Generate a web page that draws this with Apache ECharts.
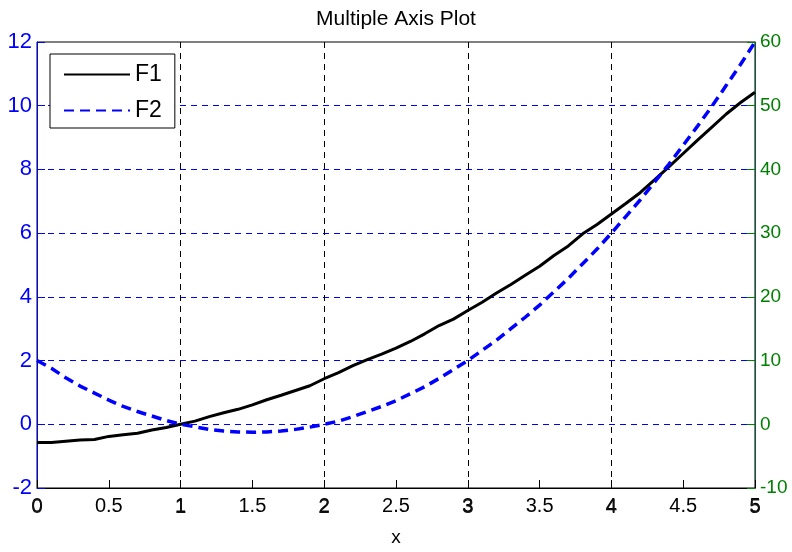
<!DOCTYPE html>
<html><head><meta charset="utf-8">
<script src="https://cdn.jsdelivr.net/npm/echarts@6/dist/echarts.min.js"></script>
<style>html,body{margin:0;padding:0;background:#fff}#c{width:792px;height:552px}</style>
</head><body><div id="c"></div>
<script>
var xValues = [0,0.1,0.2,0.3,0.4,0.5,0.6,0.7,0.8,0.9,1,1.1,1.2,1.3,1.4,1.5,1.6,1.7,1.8,1.9,2,2.1,2.2,2.3,2.4,2.5,2.6,2.7,2.8,2.9,3,3.1,3.2,3.3,3.4,3.5,3.6,3.7,3.8,3.9,4,4.1,4.2,4.3,4.4,4.5,4.6,4.7,4.8,4.9,5];
var f1Values = [-0.57,-0.57,-0.53,-0.49,-0.48,-0.38,-0.33,-0.28,-0.18,-0.1,0,0.1,0.24,0.36,0.47,0.61,0.77,0.91,1.06,1.21,1.43,1.62,1.84,2.03,2.2,2.39,2.6,2.84,3.1,3.3,3.57,3.83,4.12,4.39,4.68,4.96,5.3,5.6,5.98,6.27,6.6,6.93,7.27,7.67,8.08,8.5,8.92,9.33,9.74,10.1,10.42];
var f2Values = [10,8.8,7.3,6.0,4.9,3.8,2.8,2.0,1.3,0.6,0,-0.4,-0.8,-1.05,-1.2,-1.25,-1.2,-1.05,-0.8,-0.45,0,0.5,1.2,2.0,2.8,3.7,4.8,5.9,7.2,8.6,10,11.6,13.2,15.0,16.8,18.7,20.8,22.9,25.2,27.5,30,32.6,35.2,38.0,40.8,43.8,46.8,49.9,53.2,56.5,60];
var seriesNames = ['F1','F2'];
var titleText = 'Multiple Axis Plot';
var xName = 'x';

var FONT = 'Liberation Sans, Arial, sans-serif';
function zip(xs, ys){ return xs.map(function(x,i){ return [x, ys[i]]; }); }

var chart = echarts.init(document.getElementById('c'), null, {renderer:'canvas'});
chart.setOption({
  animation: false,
  backgroundColor: '#fff',
  title: {text: titleText, left: 'center', top: 4, textStyle: {fontFamily: FONT, fontSize: 21, fontWeight: 'normal', color: '#000'}},
  grid: {left: 37, right: 37, top: 42, bottom: 57, show: true, borderColor: '#000', borderWidth: 1, containLabel: false},
  legend: {
    left: 50, top: 54, orient: 'vertical', backgroundColor: '#fff', borderColor: '#000', borderWidth: 1, borderRadius: 0,
    padding: [9, 13, 6, 13], itemWidth: 66, itemHeight: 2, itemGap: 13, itemTextGap: 10,
    itemStyle: {color: 'rgba(255,255,255,0)', borderColor: 'rgba(255,255,255,0)', borderWidth: 0},
    textStyle: {fontFamily: FONT, fontSize: 23, color: '#000', lineHeight: 20},
    data: seriesNames
  },
  xAxis: [{
    type: 'value', min: 0, max: 5, interval: 0.5, position: 'bottom',
    name: xName, nameLocation: 'middle', nameGap: 40,
    nameTextStyle: {fontFamily: FONT, fontSize: 19, color: '#000'},
    axisLine: {show: true, onZero: false, lineStyle: {color: '#000', width: 1}},
    axisTick: {show: true, inside: true, length: 8, lineStyle: {color: '#000'}},
    axisLabel: {fontFamily: FONT, fontSize: 20, color: '#000', margin: 8},
    splitLine: {show: false}
  }, {
    type: 'value', min: 0, max: 5, interval: 1, position: 'bottom',
    axisLine: {show: false, onZero: false}, axisTick: {show: false},
    axisLabel: {fontFamily: FONT, fontSize: 21, color: '#111', margin: 9},
    splitLine: {show: true, showMinLine: false, showMaxLine: false, lineStyle: {color: '#000', type: [6, 5], width: 1}}
  }],
  yAxis: [{
    type: 'value', min: -2, max: 12, interval: 2, position: 'left',
    axisLine: {show: true, onZero: false, lineStyle: {color: '#0000ff', width: 1}},
    axisTick: {show: true, inside: true, length: 8, lineStyle: {color: '#0000ff'}},
    axisLabel: {fontFamily: FONT, fontSize: 22, color: '#0000ff', margin: 5},
    splitLine: {show: false}
  }, {
    type: 'value', min: -10, max: 60, interval: 10, position: 'right',
    axisLine: {show: true, onZero: false, lineStyle: {color: '#0a5a3a', width: 1}},
    axisTick: {show: true, inside: true, length: 8, lineStyle: {color: '#008000'}},
    axisLabel: {fontFamily: FONT, fontSize: 19, color: '#008000', margin: 5},
    splitLine: {show: true, showMinLine: false, showMaxLine: false, lineStyle: {color: '#0000ff', type: [6, 5], width: 1}}
  }],
  series: [{
    name: seriesNames[0], type: 'line', xAxisIndex: 0, yAxisIndex: 0, data: zip(xValues, f1Values),
    symbol: 'none', lineStyle: {color: '#000', width: 3}, itemStyle: {color: '#000'}, z: 3
  }, {
    name: seriesNames[1], type: 'line', xAxisIndex: 0, yAxisIndex: 1, data: zip(xValues, f2Values),
    symbol: 'none', lineStyle: {color: '#0000ff', width: 3.5, type: [10, 6]}, itemStyle: {color: '#0000ff'}, z: 4
  }]
});
</script></body></html>
